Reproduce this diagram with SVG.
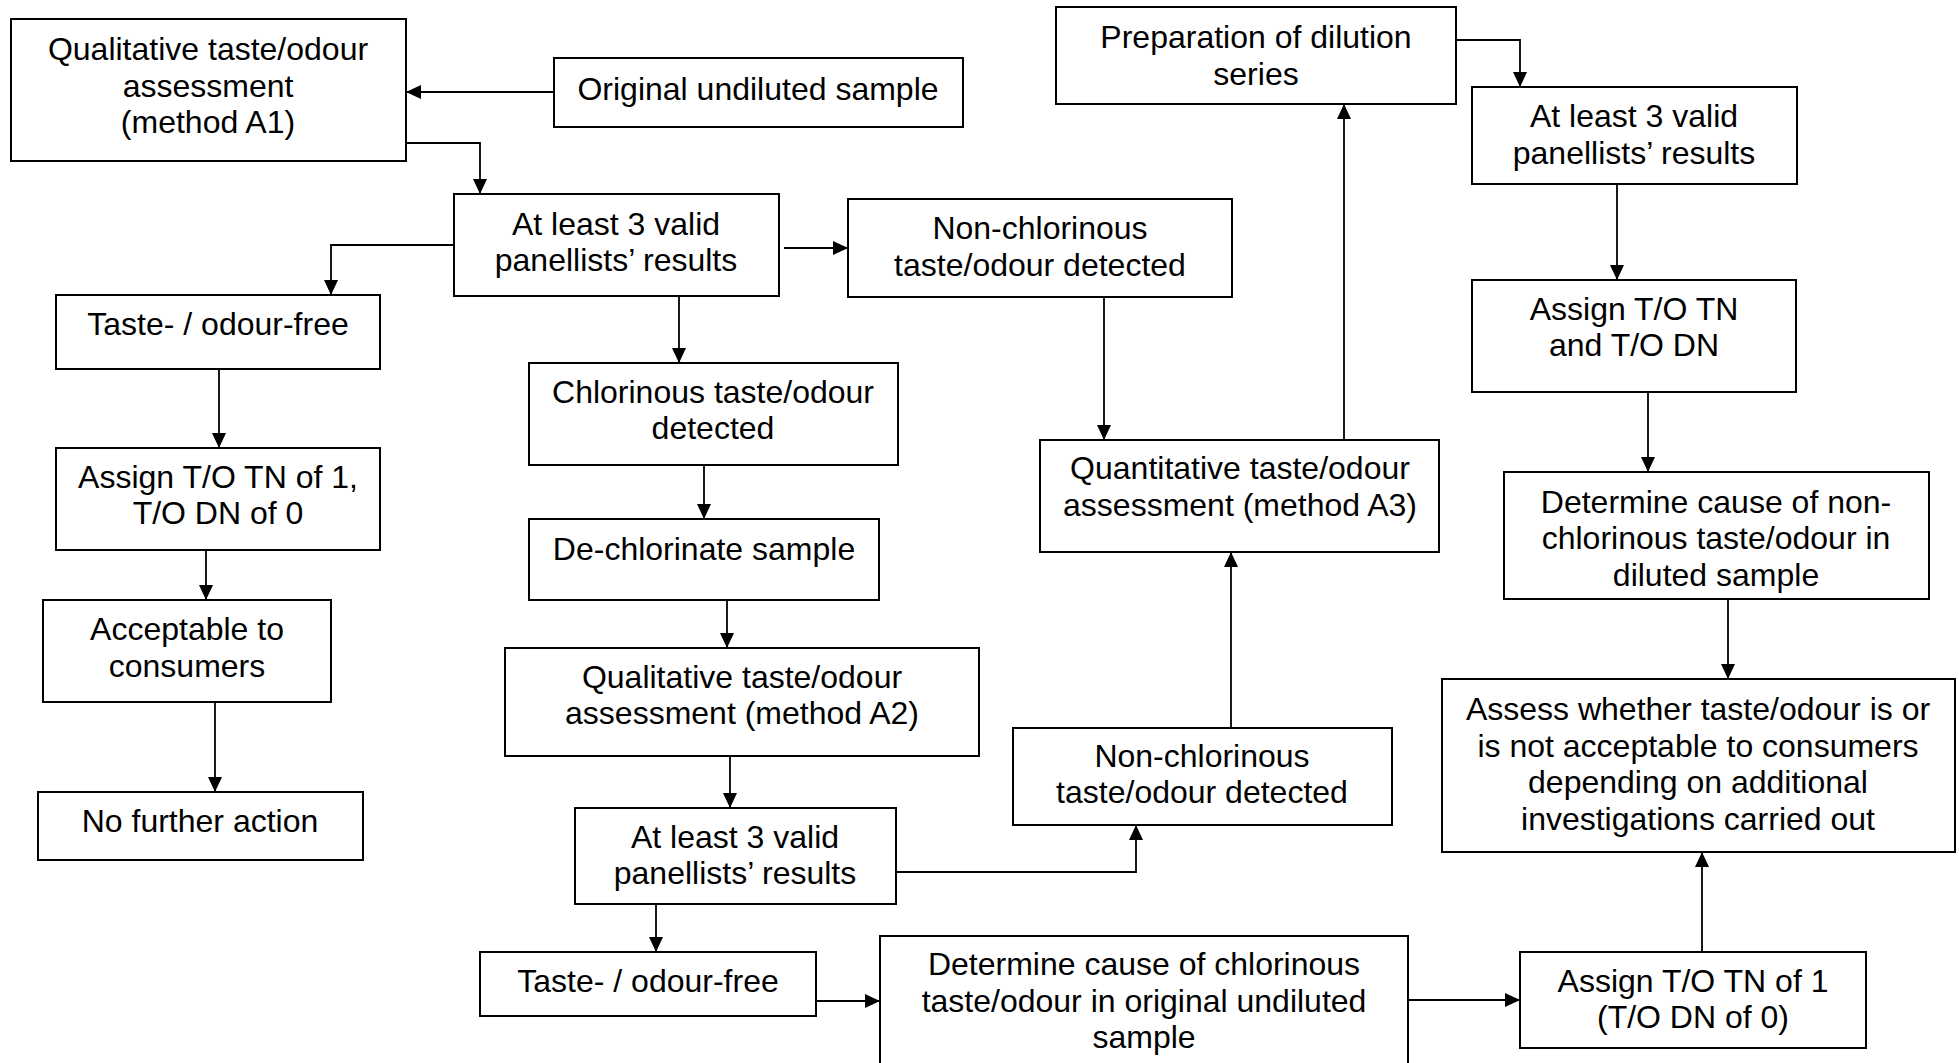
<svg xmlns="http://www.w3.org/2000/svg" width="1959" height="1063" viewBox="0 0 1959 1063">
<style>
.box{fill:#fff;stroke:#000;stroke-width:2}
.t{font-family:"Liberation Sans",Arial,Helvetica,sans-serif;font-size:32px;fill:#000;text-anchor:middle}
.c{fill:none;stroke:#000;stroke-width:1.8;marker-end:url(#ah)}
</style>
<defs>
<marker id="ah" markerUnits="userSpaceOnUse" markerWidth="16" markerHeight="14" refX="15" refY="7" orient="auto">
<path d="M0,0 L15,7 L0,14 Z" fill="#000"/>
</marker>
</defs>
<rect width="1959" height="1063" fill="#fff"/>
<g id="connectors">
<path class="c" d="M554,92 H406"/>
<path class="c" d="M406,143 H480 V194"/>
<path class="c" d="M454,245 H331 V295"/>
<path class="c" d="M784,248 H848"/>
<path class="c" d="M679,296 V363"/>
<path class="c" d="M219,369 V448"/>
<path class="c" d="M206,550 V600"/>
<path class="c" d="M215,702 V792"/>
<path class="c" d="M704,465 V519"/>
<path class="c" d="M727,600 V648"/>
<path class="c" d="M730,756 V808"/>
<path class="c" d="M656,904 V952"/>
<path class="c" d="M896,872 H1136 V825"/>
<path class="c" d="M816,1001 H880"/>
<path class="c" d="M1231,728 V552"/>
<path class="c" d="M1104,297 V440"/>
<path class="c" d="M1344,440 V104"/>
<path class="c" d="M1456,40 H1520 V87"/>
<path class="c" d="M1617,184 V280"/>
<path class="c" d="M1648,392 V472"/>
<path class="c" d="M1728,600 V679"/>
<path class="c" d="M1408,1000 H1520"/>
<path class="c" d="M1702,952 V852"/>
</g>
<g id="n_a1"><rect class="box" x="11" y="19" width="395" height="142"/>
<text class="t" x="208" y="60">Qualitative taste/odour</text><text class="t" x="208" y="97">assessment</text><text class="t" x="208" y="133">(method A1)</text></g>
<g id="n_orig"><rect class="box" x="554" y="58" width="409" height="69"/>
<text class="t" x="758" y="100">Original undiluted sample</text></g>
<g id="n_al3a"><rect class="box" x="454" y="194" width="325" height="102"/>
<text class="t" x="616" y="235">At least 3 valid</text><text class="t" x="616" y="271">panellists’ results</text></g>
<g id="n_nonchlor1"><rect class="box" x="848" y="199" width="384" height="98"/>
<text class="t" x="1040" y="239">Non-chlorinous</text><text class="t" x="1040" y="276">taste/odour detected</text></g>
<g id="n_tf1"><rect class="box" x="56" y="295" width="324" height="74"/>
<text class="t" x="218" y="335">Taste- / odour-free</text></g>
<g id="n_chlor"><rect class="box" x="529" y="363" width="369" height="102"/>
<text class="t" x="713" y="403">Chlorinous taste/odour</text><text class="t" x="713" y="439">detected</text></g>
<g id="n_assign1"><rect class="box" x="56" y="448" width="324" height="102"/>
<text class="t" x="218" y="488">Assign T/O TN of 1,</text><text class="t" x="218" y="524">T/O DN of 0</text></g>
<g id="n_accept"><rect class="box" x="43" y="600" width="288" height="102"/>
<text class="t" x="187" y="640">Acceptable to</text><text class="t" x="187" y="677">consumers</text></g>
<g id="n_nofurther"><rect class="box" x="38" y="792" width="325" height="68"/>
<text class="t" x="200" y="832">No further action</text></g>
<g id="n_dechlor"><rect class="box" x="529" y="519" width="350" height="81"/>
<text class="t" x="704" y="560">De-chlorinate sample</text></g>
<g id="n_a2"><rect class="box" x="505" y="648" width="474" height="108"/>
<text class="t" x="742" y="688">Qualitative taste/odour</text><text class="t" x="742" y="724">assessment (method A2)</text></g>
<g id="n_al3b"><rect class="box" x="575" y="808" width="321" height="96"/>
<text class="t" x="735" y="848">At least 3 valid</text><text class="t" x="735" y="884">panellists’ results</text></g>
<g id="n_tf2"><rect class="box" x="480" y="952" width="336" height="64"/>
<text class="t" x="648" y="992">Taste- / odour-free</text></g>
<g id="n_detchlor"><rect class="box" x="880" y="936" width="528" height="140"/>
<text class="t" x="1144" y="975">Determine cause of chlorinous</text><text class="t" x="1144" y="1012">taste/odour in original undiluted</text><text class="t" x="1144" y="1048">sample</text></g>
<g id="n_nonchlor2"><rect class="box" x="1013" y="728" width="379" height="97"/>
<text class="t" x="1202" y="767">Non-chlorinous</text><text class="t" x="1202" y="803">taste/odour detected</text></g>
<g id="n_a3"><rect class="box" x="1040" y="440" width="399" height="112"/>
<text class="t" x="1240" y="479">Quantitative taste/odour</text><text class="t" x="1240" y="516">assessment (method A3)</text></g>
<g id="n_prep"><rect class="box" x="1056" y="7" width="400" height="97"/>
<text class="t" x="1256" y="48">Preparation of dilution</text><text class="t" x="1256" y="85">series</text></g>
<g id="n_al3c"><rect class="box" x="1472" y="87" width="325" height="97"/>
<text class="t" x="1634" y="127">At least 3 valid</text><text class="t" x="1634" y="164">panellists’ results</text></g>
<g id="n_tndn"><rect class="box" x="1472" y="280" width="324" height="112"/>
<text class="t" x="1634" y="320">Assign T/O TN</text><text class="t" x="1634" y="356">and T/O DN</text></g>
<g id="n_detnon"><rect class="box" x="1504" y="472" width="425" height="127"/>
<text class="t" x="1716" y="513">Determine cause of non-</text><text class="t" x="1716" y="549">chlorinous taste/odour in</text><text class="t" x="1716" y="586">diluted sample</text></g>
<g id="n_assess"><rect class="box" x="1442" y="679" width="513" height="173"/>
<text class="t" x="1698" y="720">Assess whether taste/odour is or</text><text class="t" x="1698" y="757">is not acceptable to consumers</text><text class="t" x="1698" y="793">depending on additional</text><text class="t" x="1698" y="830">investigations carried out</text></g>
<g id="n_assign1b"><rect class="box" x="1520" y="952" width="346" height="96"/>
<text class="t" x="1693" y="992">Assign T/O TN of 1</text><text class="t" x="1693" y="1028">(T/O DN of 0)</text></g>
</svg>
